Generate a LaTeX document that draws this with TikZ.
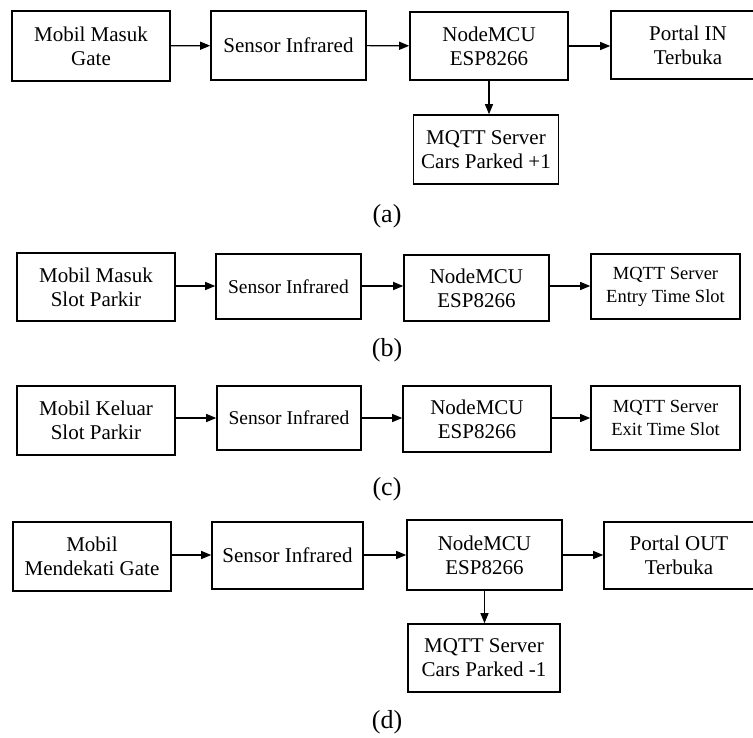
\documentclass[tikz,border=0pt]{standalone}
\usepackage{fontspec}
\setmainfont{Liberation Serif}
\usetikzlibrary{arrows.meta}
\begin{document}
\begin{tikzpicture}[x=1pt,y=-1pt,
  blk/.style={draw=black, line width=1.6pt, align=center, inner sep=0pt,
    font=\fontsize{21}{24}\selectfont},
  mid/.style={font=\fontsize{19.5}{23}\selectfont},
  small/.style={font=\fontsize{18.5}{23}\selectfont},
  arr/.style={line width=1.1pt, -{Triangle[length=10pt,width=8pt]}},
  subcap/.style={inner sep=0pt, font=\fontsize{26}{30}\selectfont}]
\clip (0,0) rectangle (753,738);
\fill[white] (0,0) rectangle (753,738);

% ---- row (a)
\node[blk, line width=2.2pt, minimum width=158pt, minimum height=70pt] (a1) at (91,46) {Mobil Masuk\\Gate};
\node[blk, minimum width=155pt, minimum height=69pt] (a2) at (288.5,45.5) {Sensor Infrared};
\node[blk, minimum width=158pt, minimum height=68pt] (a3) at (489,46) {NodeMCU\\ESP8266};
\node[blk, minimum width=154pt, minimum height=68pt] (a4) at (688,45) {Portal IN\\Terbuka};
\node[blk, minimum width=145pt, minimum height=69pt] (a5) at (486,149.5) {MQTT Server\\Cars Parked +1};
\draw[arr] (a1) -- (a2);
\draw[arr] (a2) -- (a3);
\draw[arr] (a3.east) -- (a3.east -| a4.west);
\draw[arr] (a3.south) -- (a3.south |- a5.north);
\node[subcap] (la) at (387,216) {(a)};

% ---- row (b)
\node[blk, minimum width=158pt, minimum height=68pt] (b1) at (96,287) {Mobil Masuk\\Slot Parkir};
\node[blk, mid, minimum width=145pt, minimum height=65pt] (b2) at (288.5,286.5) {Sensor Infrared};
\node[blk, minimum width=145pt, minimum height=66pt] (b3) at (476.5,288) {NodeMCU\\ESP8266};
\node[blk, small, minimum width=149pt, minimum height=65pt] (b4) at (665.5,286.5) {MQTT Server\\Entry Time Slot};
\draw[arr] (b1.east |- 0,286) -- (b2.west |- 0,286);
\draw[arr] (b2.east |- 0,286) -- (b3.west |- 0,286);
\draw[arr] (b3.east |- 0,286) -- (b4.west |- 0,286);
\node[subcap] (lb) at (387,350) {(b)};

% ---- row (c)
\node[blk, minimum width=158pt, minimum height=69pt] (c1) at (96,420.5) {Mobil Keluar\\Slot Parkir};
\node[blk, mid, minimum width=144pt, minimum height=64pt] (c2) at (289,418) {Sensor Infrared};
\node[blk, minimum width=148pt, minimum height=66pt] (c3) at (477,419) {NodeMCU\\ESP8266};
\node[blk, small, minimum width=149pt, minimum height=64pt] (c4) at (665.5,418) {MQTT Server\\Exit Time Slot};
\draw[arr] (c1.east |- 0,418) -- (c2.west |- 0,418);
\draw[arr] (c2.east |- 0,418) -- (c3.west |- 0,418);
\draw[arr] (c3.east |- 0,418) -- (c4.west |- 0,418);
\node[subcap] (lc) at (387,489) {(c)};

% ---- row (d)
\node[blk, minimum width=158pt, minimum height=69pt] (d1) at (92,556.5) {Mobil\\Mendekati Gate};
\node[blk, minimum width=151pt, minimum height=67pt] (d2) at (287.5,555.5) {Sensor Infrared};
\node[blk, minimum width=155pt, minimum height=70pt] (d3) at (484.5,555) {NodeMCU\\ESP8266};
\node[blk, minimum width=150pt, minimum height=67pt] (d4) at (679,555.5) {Portal OUT\\Terbuka};
\node[blk, minimum width=152pt, minimum height=68pt] (d5) at (484,658) {MQTT Server\\Cars Parked -1};
\draw[arr] (d1.east |- 0,555) -- (d2.west |- 0,555);
\draw[arr] (d2.east |- 0,555) -- (d3.west |- 0,555);
\draw[arr] (d3.east |- 0,555) -- (d4.west |- 0,555);
\draw[arr] (d3.south) -- (d3.south |- d5.north);
\node[subcap] (ld) at (387,722) {(d)};
\end{tikzpicture}
\end{document}
